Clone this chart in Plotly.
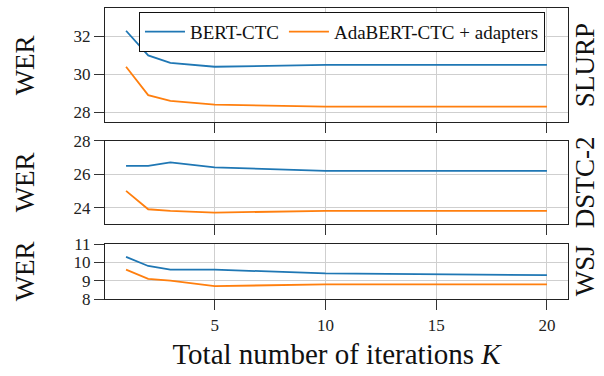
import plotly.graph_objects as go
from plotly.subplots import make_subplots

iterations = [1, 2, 3, 5, 10, 20]
series_names = ["BERT-CTC", "AdaBERT-CTC + adapters"]
datasets = ["SLURP", "DSTC-2", "WSJ"]

slurp_bert = [32.3, 31.0, 30.6, 30.4, 30.5, 30.5]
slurp_ada = [30.4, 28.9, 28.6, 28.4, 28.3, 28.3]
dstc_bert = [26.5, 26.5, 26.7, 26.4, 26.2, 26.2]
dstc_ada = [25.0, 23.9, 23.8, 23.7, 23.8, 23.8]
wsj_bert = [10.3, 9.8, 9.6, 9.6, 9.4, 9.3]
wsj_ada = [9.6, 9.1, 9.0, 8.7, 8.8, 8.8]

x_ticks = [5, 10, 15, 20]
y_ticks = [[28, 30, 32], [24, 26, 28], [8, 9, 10, 11]]
y_ranges = [[27.5, 33.5], [23, 28], [8, 11]]

colors = ["#1f77b4", "#ff7f0e"]
FONT = "Liberation Serif"

fig = make_subplots(rows=3, cols=1, shared_xaxes=False, vertical_spacing=0.0)

all_series = [(slurp_bert, slurp_ada), (dstc_bert, dstc_ada), (wsj_bert, wsj_ada)]
for r, (b, a) in enumerate(all_series, start=1):
    for i, ys in enumerate((b, a)):
        fig.add_trace(go.Scatter(x=iterations, y=ys, mode="lines",
                                 line=dict(color=colors[i], width=1.8),
                                 name=series_names[i], showlegend=(r == 1)),
                      row=r, col=1)

domains = [[0.6093, 1.0], [0.2567, 0.544], [0.0, 0.189]]
for r in range(1, 4):
    xa = "xaxis" if r == 1 else f"xaxis{r}"
    ya = "yaxis" if r == 1 else f"yaxis{r}"
    fig.layout[xa].update(range=[0.05, 20.95], tickvals=x_ticks, automargin=False,
                          showticklabels=(r == 3), ticks="outside", ticklen=10,
                          tickcolor="#333", showgrid=True, gridcolor="#cfcfcf",
                          gridwidth=1, showline=True, linecolor="#222",
                          linewidth=1.2, mirror=True, zeroline=False,
                          tickfont=dict(family=FONT, size=17, color="#222"))
    fig.layout[ya].update(range=y_ranges[r - 1], tickvals=y_ticks[r - 1],
                          domain=domains[r - 1], ticks="outside", ticklen=10,
                          automargin=False,
                          tickcolor="#333", showgrid=True, gridcolor="#cfcfcf",
                          gridwidth=1, showline=True, linecolor="#222",
                          linewidth=1.2, mirror=True, zeroline=False,
                          tickfont=dict(family=FONT, size=17, color="#222"))

fig.layout.xaxis3.title = dict(text="Total number of iterations <i>K</i>",
                               font=dict(family=FONT, size=29, color="#111"),
                               standoff=10)

ann = []
label_y = [65, 182, 271]
for i, name in enumerate(datasets):
    yp = (376 - 77 - label_y[i]) / 291
    ann.append(dict(text="WER", x=-0.172, y=yp, xref="paper", yref="paper",
                    textangle=-90, showarrow=False, xanchor="center", yanchor="middle",
                    font=dict(family=FONT, size=27, color="#111")))
    ann.append(dict(text=name, x=1.037, y=yp, xref="paper", yref="paper",
                    textangle=-90, showarrow=False, xanchor="center", yanchor="middle",
                    font=dict(family=FONT, size=27, color="#111")))
fig.update_layout(annotations=ann)

fig.update_layout(
    width=604, height=376,
    margin=dict(l=105, r=36, t=8, b=77, autoexpand=False),
    plot_bgcolor="white", paper_bgcolor="white",
    legend=dict(orientation="h", x=0.0734, y=0.987, xanchor="left", yanchor="top",
                bgcolor="white", bordercolor="#111", borderwidth=1,
                font=dict(family=FONT, size=19, color="#111"),
                itemwidth=40, tracegroupgap=0),
)

fig.write_html("out.html", config={"displayModeBar": False},
               post_script="document.body.style.margin='0px';document.body.style.overflow='hidden';")
